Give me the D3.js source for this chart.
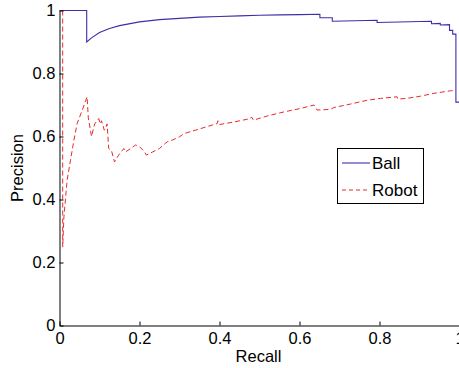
<!DOCTYPE html>
<html><head><meta charset="utf-8">
<script src="https://cdn.jsdelivr.net/npm/d3@7"></script>
<style>
body{margin:0;background:#fff;}
text{font-family:"Liberation Sans",Arial,Helvetica,sans-serif;fill:#000;}
</style></head>
<body><svg id="c" width="459" height="368"></svg>
<script>
const ballRecall = [0,0.068,0.068,0.08,0.1,0.125,0.15,0.2,0.25,0.3,0.35,0.4,0.45,0.5,0.55,0.6,0.651,0.651,0.682,0.682,0.794,0.794,0.93,0.93,0.952,0.952,0.975,0.975,0.983,0.983,0.991,0.991,1];
const ballPrecision = [1,1,0.90,0.913,0.93,0.943,0.952,0.964,0.971,0.975,0.979,0.981,0.983,0.985,0.986,0.987,0.988,0.977,0.977,0.966,0.969,0.962,0.966,0.958,0.959,0.954,0.955,0.937,0.937,0.925,0.925,0.709,0.709];
const robotRecall = [0.008,0.008,0.011,0.019,0.0275,0.036,0.044,0.057,0.069,0.072,0.08,0.088,0.098,0.102,0.105,0.112,0.115,0.119,0.123,0.13,0.1375,0.148,0.161,0.165,0.178,0.19,0.2,0.2125,0.217,0.233,0.25,0.269,0.283,0.3,0.311,0.3525,0.394,0.396,0.4,0.436,0.4775,0.48,0.485,0.519,0.561,0.6025,0.636,0.644,0.678,0.686,0.7275,0.769,0.8025,0.844,0.846,0.869,0.9025,0.936,0.9775,0.985];
const robotPrecision = [1,0.249,0.344,0.461,0.525,0.588,0.641,0.684,0.726,0.66,0.60,0.64,0.657,0.64,0.65,0.62,0.625,0.64,0.562,0.555,0.519,0.541,0.562,0.551,0.562,0.573,0.568,0.551,0.541,0.551,0.562,0.583,0.589,0.599,0.609,0.625,0.641,0.65,0.638,0.646,0.657,0.662,0.652,0.665,0.678,0.689,0.70,0.684,0.686,0.692,0.703,0.715,0.721,0.726,0.719,0.721,0.728,0.737,0.745,0.746];
const xTicks = [0,0.2,0.4,0.6,0.8,1];
const yTicks = [0,0.2,0.4,0.6,0.8,1];
const xTickLabels = ["0","0.2","0.4","0.6","0.8","1"];
const yTickLabels = ["0","0.2","0.4","0.6","0.8","1"];
const seriesNames = ["Ball","Robot"];

const svg = d3.select("#c");
const L=59.5, R=459.5, T=10.5, B=325.5;
const x = d3.scaleLinear().domain([0,1]).range([L,R]);
const y = d3.scaleLinear().domain([0,1]).range([B,T]);

const line = d3.line().x(d=>x(d[0])).y(d=>y(d[1]));
const ball = ballRecall.map((r,i)=>[r,ballPrecision[i]]);
const robot = robotRecall.map((r,i)=>[r,robotPrecision[i]]);

svg.append("path").datum(robot).attr("d",line).attr("fill","none")
  .attr("stroke","#e82a2a").attr("stroke-width",1).attr("stroke-dasharray","5,3");
svg.append("path").datum(ball).attr("d",line).attr("fill","none")
  .attr("stroke","#3a30a8").attr("stroke-width",1.1);

// axes
const xAxis = d3.axisBottom(x).tickValues(xTicks).tickFormat((d,i)=>xTickLabels[i]).tickSizeInner(-4).tickSizeOuter(0);
const yAxis = d3.axisLeft(y).tickValues(yTicks).tickFormat((d,i)=>yTickLabels[i]).tickSizeInner(-4).tickSizeOuter(0);
const gx = svg.append("g").attr("transform",`translate(0,${B})`).call(xAxis);
const gy = svg.append("g").attr("transform",`translate(${L},0)`).call(yAxis);
[gx,gy].forEach(g=>{
  g.select(".domain").attr("stroke","#000").attr("stroke-width",1);
  g.selectAll(".tick line").attr("stroke","#000");
  g.selectAll(".tick text").style("font-size","16.5px").attr("fill","#000");
});
gx.selectAll(".tick text").attr("dy","0.71em").attr("y",7);
gy.selectAll(".tick text").attr("x",-4);

svg.append("text").attr("x",(L+R)/2-1).attr("y",362).attr("text-anchor","middle").style("font-size","16.5px").text("Recall");
svg.append("text").attr("transform",`translate(23,${(T+B)/2}) rotate(-90)`).attr("text-anchor","middle").style("font-size","16.5px").text("Precision");

// legend
const lg = svg.append("g");
lg.append("rect").attr("x",337.5).attr("y",148.5).attr("width",86).attr("height",55).attr("fill","#fff").attr("stroke","#000").attr("stroke-width",1);
const legY=[163,190];
lg.append("line").attr("x1",342).attr("x2",370).attr("y1",legY[0]).attr("y2",legY[0]).attr("stroke","#3a30a8").attr("stroke-width",1.1);
lg.append("line").attr("x1",342).attr("x2",370).attr("y1",legY[1]).attr("y2",legY[1]).attr("stroke","#e82a2a").attr("stroke-width",1).attr("stroke-dasharray","4,3");
seriesNames.forEach((n,i)=>{
  lg.append("text").attr("x",372).attr("y",legY[i]).attr("dy","0.36em").style("font-size","17px").text(n);
});
</script></body></html>
